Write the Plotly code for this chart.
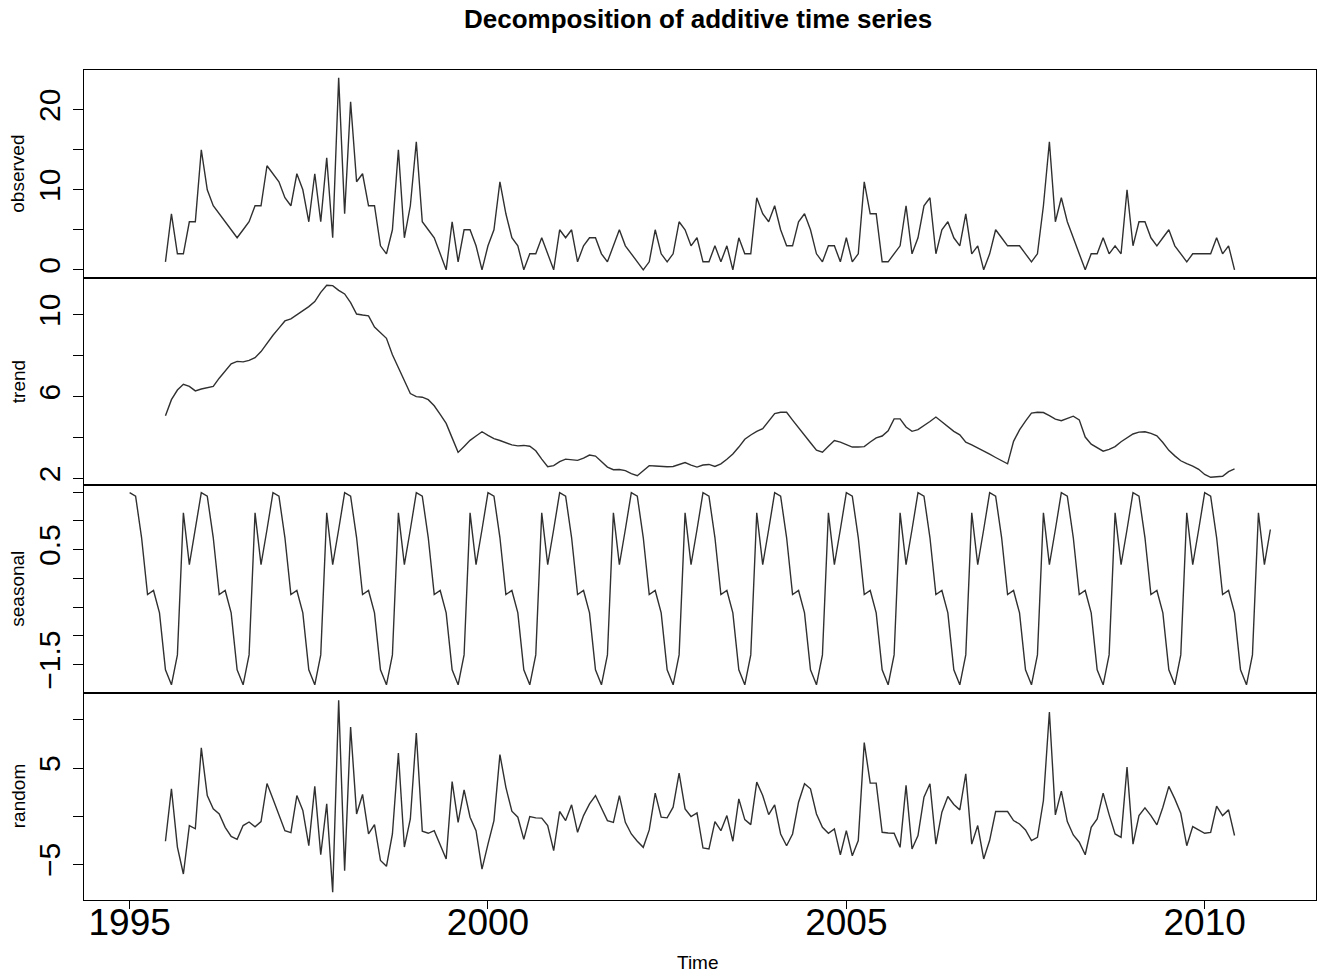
import plotly.graph_objects as go
from plotly.subplots import make_subplots

# ---- data (monthly series) ----
obs_start = 1995.5          # first month with data (July 1995)
season_start = 1995.0       # seasonal component starts January 1995
frequency = 12

observed = [1, 7, 2, 2, 6, 6, 15, 10, 8, 7, 6, 5, 4, 5, 6, 8, 8, 13, 12, 11,
            9, 8, 12, 10, 6, 12, 6, 14, 4, 24, 7, 21, 11, 12, 8, 8, 3, 2, 5, 15,
            4, 8, 16, 6, 5, 4, 2, 0, 6, 1, 5, 5, 3, 0, 3, 5, 11, 7, 4, 3,
            0, 2, 2, 4, 2, 0, 5, 4, 5, 1, 3, 4, 4, 2, 1, 3, 5, 3, 2, 1,
            0, 1, 5, 2, 1, 2, 6, 5, 3, 4, 1, 1, 3, 1, 3, 0, 4, 2, 2, 9,
            7, 6, 8, 5, 3, 3, 6, 7, 5, 2, 1, 3, 3, 1, 4, 1, 2, 11, 7, 7,
            1, 1, 2, 3, 8, 2, 4, 8, 9, 2, 5, 6, 4, 3, 7, 2, 3, 0, 2, 5,
            4, 3, 3, 3, 2, 1, 2, 8, 16, 6, 9, 6, 4, 2, 0, 2, 2, 4, 2, 3,
            2, 10, 3, 6, 6, 4, 3, 4, 5, 3, 2, 1, 2, 2, 2, 2, 4, 2, 3, 0]

trend = [5.06, 5.85, 6.32, 6.60, 6.50, 6.28, 6.37, 6.43, 6.50, 6.90, 7.25, 7.60,
         7.72, 7.70, 7.77, 7.90, 8.20, 8.62, 9.00, 9.35, 9.70, 9.80, 10.00, 10.18,
         10.40, 10.65, 11.10, 11.45, 11.43, 11.20, 11.02, 10.60, 10.04, 9.99, 9.95, 9.40,
         9.10, 8.85, 8.05, 7.40, 6.75, 6.15, 6.00, 5.97, 5.85, 5.55, 5.13, 4.69,
         3.98, 3.27, 3.56, 3.86, 4.07, 4.28, 4.10, 3.94, 3.85, 3.75, 3.64, 3.59,
         3.61, 3.57, 3.35, 2.94, 2.57, 2.62, 2.82, 2.94, 2.92, 2.88, 2.99, 3.14,
         3.09, 2.82, 2.55, 2.42, 2.43, 2.38, 2.23, 2.13, 2.36, 2.62, 2.60, 2.58,
         2.57, 2.58, 2.68, 2.77, 2.65, 2.55, 2.65, 2.68, 2.58, 2.71, 2.93, 3.19,
         3.53, 3.91, 4.12, 4.30, 4.43, 4.78, 5.17, 5.23, 5.23, 4.85, 4.46, 4.10,
         3.74, 3.38, 3.28, 3.57, 3.85, 3.77, 3.63, 3.53, 3.53, 3.55, 3.78, 3.98,
         4.07, 4.33, 4.91, 4.91, 4.51, 4.30, 4.38, 4.56, 4.78, 5.00, 4.76, 4.50,
         4.30, 4.13, 3.77, 3.64, 3.50, 3.34, 3.18, 3.02, 2.88, 2.71, 3.81, 4.37,
         4.80, 5.19, 5.23, 5.22, 5.07, 4.90, 4.82, 4.94, 5.04, 4.86, 4.02, 3.67,
         3.48, 3.33, 3.42, 3.55, 3.79, 3.98, 4.17, 4.26, 4.28, 4.20, 4.08, 3.75,
         3.37, 3.10, 2.86, 2.72, 2.60, 2.44, 2.19, 2.05, 2.07, 2.10, 2.33, 2.46]

# seasonal figure (Jan..Dec), repeated every year of the seasonal component
seasonal_figure = [1.49, 1.43, 0.71, -0.28, -0.21, -0.60,
                   -1.59, -1.85, -1.33, 1.14, 0.24, 0.85]
seasonal_years = 16

random_part = [-2.60, 2.85, -3.20, -6.00, -0.97, -1.30, 7.10, 2.15, 0.76, 0.24, -1.15, -2.10,
               -2.40, -0.97, -0.60, -1.10, -0.55, 3.40, 1.80, 0.24, -1.50, -1.70, 2.15, 0.60,
               -3.05, 3.10, -4.00, 1.28, -7.90, 12.05, -5.66, 9.27, 0.24, 2.26, -1.84, -0.87,
               -4.60, -5.20, -1.84, 6.56, -3.20, -0.28, 8.65, -1.56, -1.77, -1.50, -2.90, -4.44,
               3.60, -0.63, 2.74, -0.10, -1.50, -5.50, -2.90, -0.45, 6.40, 3.00, 0.52, -0.10,
               -2.40, -0.03, -0.17, -0.20, -0.97, -3.58, 0.49, -0.45, 1.18, -1.67, 0.07, 1.28,
               2.15, 0.76, -0.45, -0.63, 2.15, -0.63, -1.84, -2.60, -3.23, -1.42, 2.40, -0.10,
               -0.17, 0.94, 4.48, 0.76, -0.03, 0.35, -3.30, -3.40, -0.55, -1.50, 0.07, -2.60,
               1.80, -0.35, -0.87, 3.54, 2.15, 0.17, 1.18, -1.84, -3.06, -1.84, 1.46, 3.37,
               2.85, 0.24, -1.15, -1.77, -1.32, -4.00, -1.50, -4.10, -2.53, 7.64, 3.44, 3.44,
               -1.67, -1.74, -1.77, -3.23, 3.20, -3.40, -2.00, 1.98, 3.37, -2.90, 0.42, 2.05,
               1.22, 0.66, 4.41, -2.90, -0.97, -4.44, -2.50, 0.49, 0.49, 0.49, -0.45, -0.80,
               -1.42, -2.53, -2.19, 1.63, 10.83, 0.14, 2.60, -0.55, -1.94, -2.70, -4.00, -1.15,
               -0.28, 2.40, 0.17, -1.84, -2.19, 5.10, -2.90, 0.07, 0.87, 0.07, -0.90, 0.94,
               3.10, 1.80, 0.31, -3.06, -1.08, -1.42, -1.77, -1.67, 1.04, 0.07, 0.66, -2.00]

x_tick_vals = [1995, 2000, 2005, 2010]
panel_names = ["observed", "trend", "seasonal", "random"]
y_tick_vals = {
    "observed": [0, 5, 10, 15, 20],
    "trend": [2, 4, 6, 8, 10],
    "seasonal": [-1.5, -1.0, -0.5, 0.0, 0.5, 1.0, 1.5],
    "random": [-5, 0, 5, 10],
}
y_tick_text = {
    "observed": ["0", "", "10", "", "20"],
    "trend": ["2", "", "6", "", "10"],
    "seasonal": ["\u22121.5", "", "", "", "0.5", "", ""],
    "random": ["\u22125", "", "5", ""],
}

# ---- build ----
t_obs = [obs_start + i / frequency for i in range(len(observed))]
seasonal = seasonal_figure * seasonal_years
t_season = [season_start + i / frequency for i in range(len(seasonal))]

series = {
    "observed": (t_obs, observed),
    "trend": (t_obs, trend),
    "seasonal": (t_season, seasonal),
    "random": (t_obs, random_part),
}

def r_range(vals):
    lo, hi = min(vals), max(vals)
    pad = 0.04 * (hi - lo)
    return [lo - pad, hi + pad]

all_t = t_season + t_obs
x_range = r_range(all_t)

fig = make_subplots(rows=4, cols=1, shared_xaxes=True, vertical_spacing=0)

FONT = "Liberation Sans, Arial, Helvetica, sans-serif"
LINE = "#303030"

for r, name in enumerate(panel_names, start=1):
    xs, ys = series[name]
    fig.add_trace(go.Scatter(x=xs, y=ys, mode="lines",
                             line=dict(color=LINE, width=1.4),
                             showlegend=False, hoverinfo="skip"),
                  row=r, col=1)
    fig.update_yaxes(row=r, col=1, range=r_range(ys), automargin=False,
                     tickvals=y_tick_vals[name], ticktext=y_tick_text[name],
                     tickangle=-90, ticks="outside", ticklen=10, tickwidth=1,
                     tickcolor="black", showline=True, mirror=True,
                     linecolor="black", linewidth=1.2, showgrid=False,
                     zeroline=False, ticklabelstandoff=1,
                     tickfont=dict(family=FONT, size=30, color="black"))
    fig.update_xaxes(row=r, col=1, range=x_range, automargin=False,
                     showline=True, mirror=True,
                     linecolor="black", linewidth=1.2, showgrid=False,
                     zeroline=False, tickvals=x_tick_vals,
                     ticks="outside" if r == 4 else "",
                     ticklen=8, tickcolor="black",
                     showticklabels=(r == 4), ticklabelstandoff=-19,
                     tickfont=dict(family=FONT, size=37, color="black"))

    # panel label (R style, rotated)
    fig.add_annotation(text=name, xref="paper", yref="y%s domain" % ("" if r == 1 else r),
                       x=-0.0536, y=0.5, showarrow=False, textangle=-90,
                       xanchor="center", yanchor="middle",
                       font=dict(family=FONT, size=19, color="black"))

fig.add_annotation(text="<b>Decomposition of additive time series</b>",
                   xref="paper", yref="paper", x=0.4985, y=1.0615,
                   showarrow=False, xanchor="center", yanchor="middle",
                   font=dict(family=FONT, size=26, color="black"))
fig.add_annotation(text="Time", xref="paper", yref="paper", x=0.4985, y=-0.0747,
                   showarrow=False, xanchor="center", yanchor="middle",
                   font=dict(family=FONT, size=19, color="black"))

fig.update_layout(width=1320, height=973,
                  margin=dict(l=84, r=4, t=70, b=73, autoexpand=False),
                  paper_bgcolor="white", plot_bgcolor="white")

fig.write_html("out.html", config={"responsive": False, "displayModeBar": False},
               post_script="document.body.style.margin='0';"
                           "document.body.style.overflow='hidden';")
